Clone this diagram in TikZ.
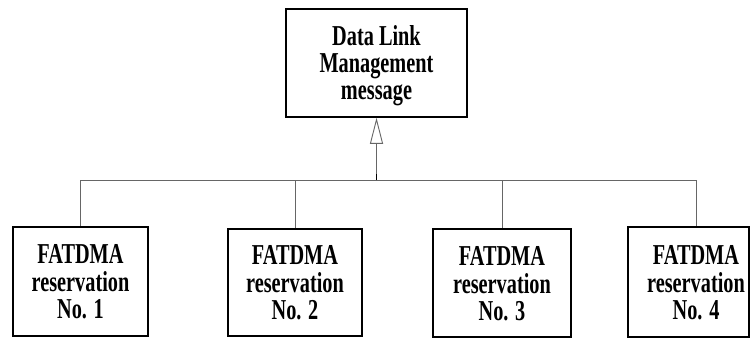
\documentclass[tikz,border=0pt]{standalone}
\usepackage{fontspec}
\usepackage{graphicx}
\setmainfont{Liberation Serif}
\usetikzlibrary{arrows.meta}
\newcommand\stretchtxt[1]{\scalebox{1}[1.42]{\begin{tabular}{@{}c@{}}\rule{0pt}{19.1pt}#1\end{tabular}}}
\begin{document}
\begin{tikzpicture}[x=1pt,y=1pt,
  box/.style={draw=black, line width=1.5pt, align=center, inner sep=0pt,
    font=\fontsize{20.3}{18.7}\selectfont\bfseries},
  conn/.style={draw=black!60, line width=0.9pt}]
\useasboundingbox[fill=white] (0,0) rectangle (751,338);
\node[box, minimum width=181, minimum height=108] (top) at (376.5,275) {\stretchtxt{Data Link\\Management\\message}};
\node[box, minimum width=135, minimum height=109] (b1) at (80.5,56.5) {\stretchtxt{FATDMA\\reservation\\No. 1}};
\node[box, minimum width=134, minimum height=107] (b2) at (295,55.5) {\stretchtxt{FATDMA\\reservation\\No. 2}};
\node[box, minimum width=138, minimum height=108] (b3) at (502,55) {\stretchtxt{FATDMA\\reservation\\No. 3}};
\node[box, minimum width=121, minimum height=110] (b4) at (688.5,56) {\hspace*{15pt}\stretchtxt{FATDMA\\reservation\\No. 4}};
\coordinate (hub) at (376.5,158);
\coordinate (j1) at (80.5,158);
\coordinate (j2) at (295,158);
\coordinate (j3) at (502,158);
\coordinate (j4) at (696,158);
\draw[conn] (j1) -- (j4);
\draw[conn] (j1) -- (b1.north);
\draw[conn] (j2) -- (b2.north);
\draw[conn] (j3) -- (b3.north);
\draw[conn] (j4) -- (j4 |- b4.north);
\draw[conn, -{Triangle[open, length=26pt, width=13pt, line width=0.9pt]}] (hub) -- (top.south);
\draw[black, line width=1.6pt] (hub) -- ++(0,6);
\end{tikzpicture}
\end{document}
